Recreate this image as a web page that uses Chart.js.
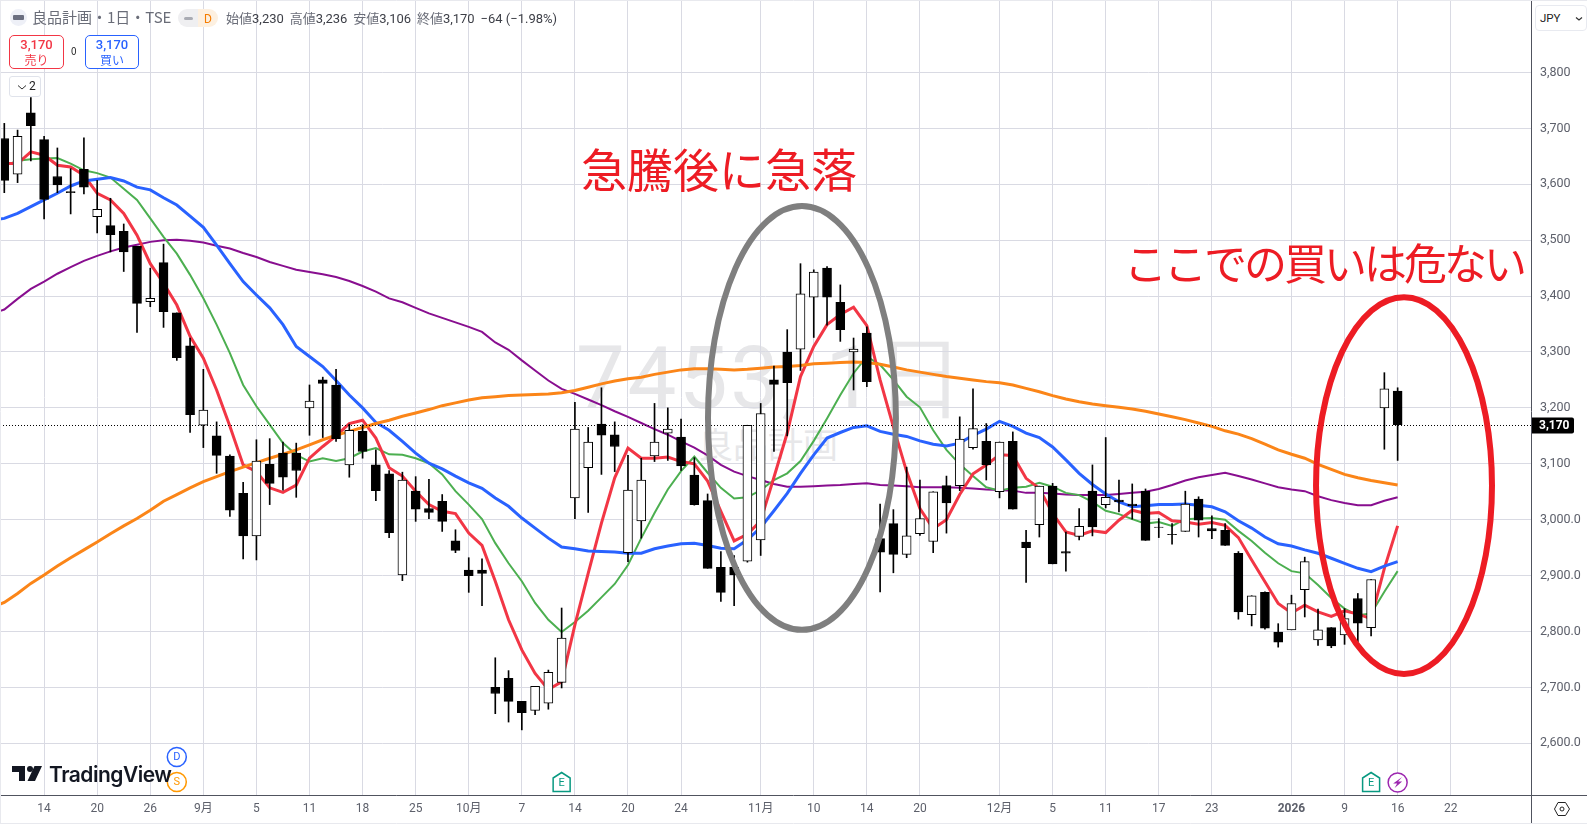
<!DOCTYPE html>
<html lang="ja">
<head>
<meta charset="utf-8">
<title>良品計画 1日</title>
<script src="https://cdn.jsdelivr.net/npm/chart.js@4"></script>
<style>
    html, body { margin: 0; padding: 0; background: #fff; overflow: hidden; }
    body { width: 1587px; height: 830px; position: relative; font-family: "Noto Sans CJK JP", "Noto Sans", sans-serif; }
    canvas { position: absolute; left: 0; top: 0; z-index: 1; }
    .abs { position: absolute; white-space: nowrap; z-index: 2; }
    .wm { position: absolute; white-space: nowrap; z-index: 0; color: #e7e7e9; }
    .note { color: #ed1c24; line-height: 1; }
    .box { border-radius: 5px; background: #fff; text-align: center; box-sizing: border-box; line-height: 14px; font-size: 12px; padding-top: 1px; }
    .box b { display: block; font-weight: 500; font-size: 13px; font-family: Roboto, sans-serif; line-height: 16px; }
    .ohlc span { color: #3d3f47; font-family: Roboto, sans-serif; }
</style>
</head>
<body>
<div class="wm" style="left:576px;top:320px;font-size:87px;font-family:Roboto,sans-serif;line-height:116px;letter-spacing:2.5px;">7453, 1日</div>
<div class="wm" style="left:698px;top:420px;font-size:35px;line-height:46px;">良品計画</div>

<canvas id="chart" width="1587" height="830"></canvas>

<!-- header -->
<div class="abs" style="left:10px;top:9px;width:17px;height:17px;border-radius:50%;background:#eef0f7;"></div>
<div class="abs" style="left:13px;top:15px;width:11px;height:5px;background:#6b6f80;border-radius:1px;"></div>
<div class="abs" style="left:32px;top:6px;font-size:15px;line-height:22px;color:#6a6d78;">良品計画・1日・TSE</div>
<div class="abs" style="left:178px;top:9px;width:20px;height:18px;background:#efeff1;border-radius:9px 0 0 9px;"></div>
<div class="abs" style="left:184px;top:17px;width:9px;height:3px;background:#a9abb3;border-radius:2px;"></div>
<div class="abs" style="left:198px;top:9px;width:20px;height:18px;background:#fdf0e0;border-radius:0 9px 9px 0;color:#f57c00;font-size:12px;line-height:18px;text-align:center;">D</div>
<div class="abs ohlc" style="left:226px;top:8px;font-size:13px;line-height:20px;color:#6a6d78;">始値<span>3,230</span>&nbsp; 高値<span>3,236</span>&nbsp; 安値<span>3,106</span>&nbsp; 終値<span>3,170</span>&nbsp; <span>−64 (−1.98%)</span></div>
<div class="abs box" style="left:9px;top:35px;width:55px;height:34px;border:1px solid #f23645;color:#f23645;"><b>3,170</b>売り</div>
<div class="abs" style="left:71px;top:44px;font-size:10px;line-height:14px;color:#222;">0</div>
<div class="abs box" style="left:85px;top:35px;width:54px;height:34px;border:1px solid #2962ff;color:#2962ff;"><b>3,170</b>買い</div>
<div class="abs" style="left:9px;top:76px;width:32px;height:21px;border:1px solid #e0e3eb;border-radius:3px;box-sizing:border-box;background:#fff;">
    <svg width="12" height="10" style="position:absolute;left:6px;top:6px;"><path d="M2 2.5 L6 6 L10 2.5" fill="none" stroke="#333" stroke-width="1"/></svg>
    <span style="position:absolute;left:19px;top:0;font-size:12px;line-height:19px;color:#222;font-family:Roboto,sans-serif;">2</span>
</div>
<div class="abs" style="left:1535px;top:5px;width:52px;height:26px;border:1px solid #e8eaf0;border-radius:4px;box-sizing:border-box;background:#fff;">
    <span style="position:absolute;left:4px;top:3px;font-size:11.5px;line-height:18px;color:#222;font-family:Roboto,sans-serif;">JPY</span>
    <svg width="8" height="6" style="position:absolute;left:39px;top:10px;"><path d="M1 1.5 L4 4 L7 1.5" fill="none" stroke="#333" stroke-width="1.2"/></svg>
</div>

<!-- hand written notes on the chart -->
<div class="abs note" style="left:581px;top:144px;font-size:46px;">急騰後に急落</div>
<div class="abs note" style="left:1124px;top:240px;font-size:43px;letter-spacing:-3px;">ここでの買いは危ない</div>

<!-- logo -->
<svg class="abs" style="left:12px;top:765px;" width="32" height="18">
    <path d="M0 1 H13 V16 H7 V7 H0 Z M30 1 L23 16 H15.5 L22.5 1 Z" fill="#131722"/>
    <circle cx="18" cy="4" r="3" fill="#131722"/>
</svg>
<div class="abs" style="left:49px;top:761px;font-size:21px;line-height:28px;font-weight:600;color:#131722;font-family:Inter,sans-serif;letter-spacing:-0.5px;">TradingView</div>

<!-- settings icon -->
<svg class="abs" style="left:1553px;top:801px;" width="18" height="16">
    <path d="M5 1.5 H12.5 L16.5 8 L12.5 14.5 H5 L1.5 8 Z" fill="none" stroke="#222" stroke-width="1"/>
    <circle cx="9" cy="8" r="2" fill="none" stroke="#222" stroke-width="1"/>
</svg>

<script>
// OHLC, one row per trading day
const opens = [
    3682, 3618, 3728, 3680, 3614, 3587, 3627, 3542, 3526, 3516,
    3489, 3390, 3460, 3370, 3311, 3169, 3150, 3114, 3047, 2971,
    3099, 3119, 3119, 3200, 3250, 3241, 3098, 3158, 3098, 3082,
    2901, 3051, 3020, 3033, 2962, 2910, 2910, 2700, 2716, 2675,
    2659, 2672, 2709, 3039, 3093, 3171, 3152, 2941, 2998, 3114,
    3155, 3148, 3080, 3034, 2915, 2915, 2926, 2964, 3250, 3300,
    3305, 3398, 3450, 3389, 3300, 3334, 2966, 2993, 2938, 2975,
    2961, 3061, 3061, 3129, 3140, 3050, 3140, 2960, 2991, 3060,
    2943, 2970, 3051, 3027, 3035, 3028, 3051, 2987, 2974, 2979,
    3037, 2984, 2981, 2940, 2830, 2870, 2799, 2803, 2875, 2785,
    2807, 2794, 2859, 2807, 3200, 3230
];
const highs = [
    3709, 3697, 3755, 3686, 3665, 3628, 3683, 3607, 3575, 3529,
    3489, 3450, 3493, 3370, 3325, 3269, 3175, 3116, 3067, 3143,
    3145, 3139, 3137, 3241, 3255, 3269, 3171, 3170, 3125, 3088,
    3085, 3077, 3072, 3045, 2982, 2932, 2930, 2753, 2730, 2675,
    2702, 2731, 2842, 3210, 3165, 3236, 3175, 3115, 3110, 3208,
    3200, 3180, 3111, 3046, 2943, 2936, 3169, 3208, 3275, 3340,
    3458, 3447, 3453, 3420, 3325, 3345, 3028, 3018, 3094, 3071,
    3050, 3078, 3184, 3234, 3172, 3139, 3157, 2981, 3060, 3065,
    2978, 3020, 3098, 3147, 3071, 3064, 3055, 3002, 2993, 3051,
    3041, 3007, 2993, 2943, 2864, 2871, 2814, 2865, 2933, 2840,
    2807, 2841, 2868, 2893, 3263, 3236
];
const lows = [
    3585, 3603, 3642, 3538, 3585, 3547, 3583, 3513, 3479, 3444,
    3335, 3381, 3344, 3285, 3156, 3129, 3083, 3006, 2930, 2928,
    3027, 3053, 3040, 3151, 3147, 3140, 3076, 3110, 3034, 2968,
    2891, 2997, 3002, 2979, 2941, 2870, 2846, 2653, 2638, 2624,
    2651, 2661, 2699, 3002, 3013, 3081, 3086, 2925, 2967, 3104,
    3106, 3088, 3026, 2913, 2854, 2846, 2924, 2936, 3122, 3150,
    3267, 3326, 3348, 3319, 3232, 3238, 2871, 2905, 2932, 2972,
    2941, 2976, 3052, 3126, 3071, 3039, 3019, 2888, 2969, 2921,
    2908, 2964, 2971, 3021, 3014, 3001, 2963, 2968, 2956, 2979,
    2969, 2966, 2954, 2822, 2810, 2804, 2772, 2803, 2826, 2775,
    2771, 2777, 2781, 2792, 3126, 3106
];
const closes = [
    3607, 3686, 3705, 3573, 3599, 3585, 3595, 3555, 3510, 3479,
    3387, 3396, 3372, 3290, 3188, 3196, 3115, 3017, 2971, 3105,
    3065, 3076, 3088, 3212, 3244, 3145, 3160, 3122, 3052, 2977,
    3071, 3019, 3013, 2997, 2945, 2900, 2904, 2689, 2675, 2655,
    2702, 2727, 2788, 3162, 3139, 3151, 3131, 3053, 3071, 3139,
    3162, 3096, 3027, 2913, 2870, 2901, 3169, 3190, 3242, 3245,
    3404, 3443, 3398, 3340, 3305, 3247, 2942, 2938, 2971, 3002,
    3050, 3030, 3144, 3163, 3098, 3139, 3019, 2950, 3060, 2921,
    2940, 2988, 2987, 3040, 3032, 3025, 2963, 2986, 2973, 3028,
    2999, 2980, 2954, 2835, 2864, 2806, 2781, 2850, 2925, 2803,
    2774, 2823, 2815, 2893, 3234, 3170
];

// moving averages: the first value sits one day left of the first candle, off the edge
const maRed = [
    3638,
    3637, 3637, 3658, 3652, 3634, 3631, 3616, 3584, 3572, 3548,
    3509, 3458, 3423, 3384, 3328, 3289, 3232, 3167, 3098, 3086,
    3057, 3049, 3062, 3110, 3131, 3150, 3172, 3178, 3146, 3093,
    3078, 3051, 3027, 3015, 3011, 2976, 2954, 2890, 2821, 2767,
    2725, 2696, 2710, 2812, 2904, 2994, 3075, 3128, 3110, 3110,
    3112, 3104, 3100, 3069, 3015, 2962, 2974, 2998, 3076, 3155,
    3256, 3310, 3349, 3367, 3380, 3347, 3250, 3166, 3086, 3020,
    2984, 3000, 3045, 3082, 3098, 3116, 3115, 3074, 3056, 3011,
    2978, 2972, 2980, 2977, 2999, 3017, 3011, 3013, 2998, 2996,
    2992, 2995, 2990, 2968, 2928, 2889, 2850, 2833, 2847, 2835,
    2827, 2837, 2831, 2823, 2913, 2989
];
const maGreen = [
    3631,
    3633, 3642, 3645, 3646, 3647, 3637, 3625, 3620, 3612, 3592,
    3572, 3539, 3506, 3476, 3438, 3396, 3349, 3298, 3241, 3203,
    3170, 3137, 3116, 3104, 3110, 3105, 3110, 3122, 3128, 3117,
    3116, 3110, 3101, 3081, 3051, 3027, 3001, 2958, 2922, 2890,
    2851, 2821, 2799, 2817, 2837, 2861, 2885, 2919, 2967, 3012,
    3054, 3087, 3113, 3084, 3057, 3038, 3040, 3053, 3071, 3083,
    3105, 3141, 3181, 3223, 3262, 3292, 3277, 3250, 3220, 3201,
    3160, 3125, 3099, 3078, 3058, 3052, 3057, 3059, 3066, 3059,
    3048, 3044, 3032, 3016, 3010, 3001, 2993, 2996, 2989, 3001,
    3002, 3003, 3000, 2980, 2962, 2941, 2922, 2908, 2904, 2883,
    2860, 2841, 2829, 2832, 2871, 2908
];
const maBlue = [
    3536,
    3539, 3548, 3560, 3572, 3584, 3597, 3606, 3609, 3612, 3606,
    3595, 3590, 3576, 3563, 3543, 3523, 3491, 3458, 3426, 3402,
    3379, 3349, 3310, 3292, 3274, 3249, 3223, 3200, 3174, 3160,
    3140, 3119, 3101, 3091, 3078, 3066, 3056, 3039, 3024, 3003,
    2985, 2967, 2951, 2948, 2944, 2943, 2942, 2940, 2940, 2948,
    2953, 2957, 2958, 2954, 2949, 2948, 2964, 2986, 3016, 3047,
    3083, 3116, 3146, 3156, 3165, 3168, 3158, 3153, 3149, 3141,
    3135, 3132, 3137, 3151, 3162, 3176, 3167, 3155, 3147, 3130,
    3107, 3083, 3063, 3046, 3032, 3023, 3025, 3027, 3027, 3028,
    3026, 3023, 3014, 2998, 2985, 2969, 2957, 2953, 2946, 2940,
    2931, 2922, 2913, 2907, 2917, 2925
];
const maPurple = [
    3368,
    3376, 3395, 3413, 3426, 3440, 3452, 3463, 3472, 3480, 3487,
    3492, 3497, 3500, 3501, 3499, 3496, 3490, 3485, 3477, 3470,
    3461, 3454, 3447, 3443, 3439, 3434, 3427, 3418, 3408, 3396,
    3389, 3379, 3369, 3361, 3353, 3345, 3336, 3317, 3304, 3285,
    3267, 3249, 3234, 3225, 3215, 3205, 3194, 3184, 3173, 3162,
    3152, 3140, 3129, 3115, 3098, 3086, 3078, 3071, 3064, 3059,
    3059, 3060, 3061, 3062, 3064, 3065, 3062, 3061, 3060, 3058,
    3058, 3058, 3057, 3056, 3054, 3053, 3052, 3048, 3048, 3047,
    3045, 3044, 3044, 3044, 3046, 3048, 3050, 3055, 3062, 3070,
    3076, 3080, 3084, 3078, 3072, 3065, 3058, 3054, 3051, 3042,
    3035, 3030, 3026, 3026, 3034, 3040
];
const maOrange = [
    2842,
    2852, 2868, 2886, 2901, 2917, 2932, 2946, 2960, 2975, 2989,
    3002, 3017, 3033, 3045, 3057, 3068, 3077, 3086, 3094, 3102,
    3110, 3117, 3125, 3134, 3143, 3151, 3158, 3165, 3172, 3178,
    3185, 3191, 3197, 3204, 3209, 3214, 3218, 3220, 3222, 3223,
    3224, 3225, 3227, 3231, 3237, 3243, 3248, 3252, 3255, 3260,
    3264, 3268, 3270, 3270, 3269, 3268, 3269, 3271, 3273, 3274,
    3276, 3279, 3280, 3281, 3282, 3281, 3278, 3273, 3268, 3264,
    3260, 3256, 3253, 3250, 3247, 3245, 3241, 3235, 3229, 3222,
    3216, 3211, 3207, 3204, 3201, 3198, 3194, 3189, 3184, 3179,
    3173, 3167, 3159, 3153, 3145, 3135, 3125, 3117, 3110, 3099,
    3090, 3081, 3075, 3070, 3066, 3062
];

// axis ticks
const dateTicks = [3, 7, 11, 15, 19, 23, 27, 31, 35, 39, 43, 47, 51, 57, 61, 65, 69, 75, 79, 83, 87, 91, 97, 101, 105, 109];
const dateLabels = ['14', '20', '26', '9月', '5', '11', '18', '25', '10月', '7', '14', '20', '24', '11月', '10', '14', '20', '12月', '5', '11', '17', '23', '2026', '9', '16', '22'];
const priceTicks = [3800, 3700, 3600, 3500, 3400, 3300, 3200, 3100, 3000, 2900, 2800, 2700, 2600];
const priceLabels = ['3,800', '3,700', '3,600', '3,500', '3,400', '3,300', '3,200', '3,100', '3,000.0', '2,900.0', '2,800.0', '2,700.0', '2,600.0'];

// event markers on the time axis
const earningsDays = [42, 103];
const dividendDay = 13;
const newsDay = 105;
const lastClose = closes[closes.length - 1];

// ellipses drawn over the chart: centre day, centre price, half width in days, half height in yen
const grayCircle = [60.11, 3182, 7.08, 379];
const redCircle = [105.48, 3061, 6.63, 337];

const axisColor = '#50535e';
const gridColor = '#d9dae3';
const labelColor = '#5d606b';

function maDataset(values, color, width, order) {
    return {
        type: 'line',
        data: values.map((v, i) => ({ x: i - 1, y: v })),
        borderColor: color,
        borderWidth: width,
        pointRadius: 0,
        tension: 0,
        order: order
    };
}

function drawEllipse(ctx, chart, e, color) {
    const x = chart.scales.x, y = chart.scales.y;
    const cx = x.getPixelForValue(e[0]);
    const cy = y.getPixelForValue(e[1]);
    const rx = x.getPixelForValue(e[0] + e[2]) - cx;
    const ry = cy - y.getPixelForValue(e[1] + e[3]);
    ctx.strokeStyle = color;
    ctx.lineWidth = 6;
    ctx.beginPath();
    ctx.ellipse(cx, cy, rx, ry, 0, 0, Math.PI * 2);
    ctx.stroke();
}

function drawCircleMark(ctx, x, y, letter, color) {
    ctx.fillStyle = '#fff';
    ctx.strokeStyle = color;
    ctx.lineWidth = 1.5;
    ctx.beginPath();
    ctx.arc(x, y, 9.5, 0, Math.PI * 2);
    ctx.fill();
    ctx.stroke();
    ctx.fillStyle = color;
    ctx.font = '11px Roboto, sans-serif';
    ctx.textAlign = 'center';
    ctx.textBaseline = 'middle';
    ctx.fillText(letter, x, y + 0.5);
}

// everything that is not a data series: price line, tag, markers, circles, axis frame
const overlayPlugin = {
    id: 'overlay',
    afterDatasetsDraw(chart) {
        const ctx = chart.ctx;
        const area = chart.chartArea;
        const x = chart.scales.x, y = chart.scales.y;
        const py = Math.round(y.getPixelForValue(lastClose)) + 0.5;

        ctx.save();
        // last price line
        ctx.strokeStyle = '#000';
        ctx.lineWidth = 1;
        ctx.setLineDash([1, 2]);
        ctx.beginPath();
        ctx.moveTo(area.left, py);
        ctx.lineTo(area.right, py);
        ctx.stroke();
        ctx.setLineDash([]);

        // axis frame
        ctx.strokeStyle = axisColor;
        ctx.beginPath();
        ctx.moveTo(0, area.bottom + 0.5);
        ctx.lineTo(1587, area.bottom + 0.5);
        ctx.moveTo(area.right + 0.5, 0);
        ctx.lineTo(area.right + 0.5, 823);
        ctx.stroke();
        ctx.strokeStyle = '#e8e9ee';
        ctx.beginPath();
        ctx.moveTo(0, 823.5);
        ctx.lineTo(1587, 823.5);
        ctx.moveTo(0.5, 0);
        ctx.lineTo(0.5, 823);
        ctx.moveTo(0, 0.5);
        ctx.lineTo(1587, 0.5);
        ctx.stroke();

        // price tag
        ctx.fillStyle = '#000';
        ctx.beginPath();
        ctx.roundRect(area.right + 1, py - 8, 42, 16, [0, 2, 2, 0]);
        ctx.fill();
        ctx.fillStyle = '#fff';
        ctx.font = 'bold 12px Roboto, sans-serif';
        ctx.textAlign = 'left';
        ctx.textBaseline = 'middle';
        ctx.fillText('3,170', area.right + 8, py + 0.5);

        // earnings flags
        earningsDays.forEach(day => {
            const fx = x.getPixelForValue(day);
            ctx.fillStyle = '#fff';
            ctx.strokeStyle = '#089981';
            ctx.lineWidth = 1.5;
            ctx.beginPath();
            ctx.moveTo(fx - 8.5, 778);
            ctx.lineTo(fx, 772.5);
            ctx.lineTo(fx + 8.5, 778);
            ctx.lineTo(fx + 8.5, 791.5);
            ctx.lineTo(fx - 8.5, 791.5);
            ctx.closePath();
            ctx.fill();
            ctx.stroke();
            ctx.fillStyle = '#089981';
            ctx.font = '11px Roboto, sans-serif';
            ctx.textAlign = 'center';
            ctx.textBaseline = 'middle';
            ctx.fillText('E', fx, 783);
        });

        // dividend and split marks
        drawCircleMark(ctx, x.getPixelForValue(dividendDay), 757, 'D', '#2962ff');
        drawCircleMark(ctx, x.getPixelForValue(dividendDay), 782, 'S', '#ff9800');

        // news mark with a bolt
        const nx = x.getPixelForValue(newsDay);
        ctx.fillStyle = '#fff';
        ctx.strokeStyle = '#9c27b0';
        ctx.lineWidth = 1.5;
        ctx.beginPath();
        ctx.arc(nx, 782.5, 9.5, 0, Math.PI * 2);
        ctx.fill();
        ctx.stroke();
        ctx.fillStyle = '#9c27b0';
        ctx.beginPath();
        ctx.moveTo(nx + 4.5, 777);
        ctx.lineTo(nx - 4.5, 783.5);
        ctx.lineTo(nx - 0.5, 783.5);
        ctx.lineTo(nx - 3, 788);
        ctx.lineTo(nx + 4.5, 781.5);
        ctx.lineTo(nx + 0.5, 781.5);
        ctx.closePath();
        ctx.fill();

        // circles
        drawEllipse(ctx, chart, grayCircle, '#7f7f7f');
        drawEllipse(ctx, chart, redCircle, '#ed1c24');
        ctx.restore();
    }
};

new Chart(document.getElementById('chart').getContext('2d'), {
    type: 'bar',
    data: {
        datasets: [
            maDataset(maPurple, '#880e8f', 2, 9),
            maDataset(maGreen, '#4caf50', 2, 8),
            maDataset(maRed, '#f23645', 3, 7),
            maDataset(maBlue, '#2962ff', 3, 6),
            maDataset(maOrange, '#fb8518', 3, 5),
            {
                // wicks
                data: highs.map((h, i) => ({ x: i, y: [lows[i], h] })),
                backgroundColor: '#000',
                barThickness: 1,
                grouped: false,
                order: 2
            },
            {
                // bodies
                data: opens.map((o, i) => ({ x: i, y: [o, closes[i]] })),
                backgroundColor: opens.map((o, i) => closes[i] > o ? '#fff' : '#000'),
                borderColor: '#000',
                borderWidth: 1,
                borderSkipped: false,
                barThickness: 9,
                grouped: false,
                order: 1
            }
        ]
    },
    options: {
        responsive: false,
        animation: false,
        devicePixelRatio: 1,
        layout: { padding: 0 },
        plugins: {
            legend: { display: false },
            tooltip: { enabled: false }
        },
        scales: {
            x: {
                type: 'linear',
                offset: false,
                min: -0.324,
                max: 115.05,
                grid: { offset: false, color: gridColor, drawTicks: false },
                border: { display: false },
                afterBuildTicks: scale => {
                    scale.ticks = dateTicks.map(v => ({ value: v }));
                },
                afterFit: scale => {
                    scale.height = 35;
                    scale.paddingLeft = 0;
                    scale.paddingRight = 0;
                },
                ticks: {
                    autoSkip: false,
                    maxRotation: 0,
                    padding: 7,
                    color: labelColor,
                    font: ctx => ({ size: 12, family: 'Roboto, "Noto Sans CJK JP", sans-serif', weight: ctx.tick && ctx.tick.value === 97 ? 'bold' : 'normal' }),
                    callback: value => dateLabels[dateTicks.indexOf(value)]
                }
            },
            y: {
                type: 'linear',
                position: 'right',
                min: 2507.5,
                max: 3929.7,
                grid: { color: gridColor, drawTicks: false },
                border: { display: false },
                afterBuildTicks: scale => {
                    scale.ticks = priceTicks.map(v => ({ value: v }));
                },
                afterFit: scale => {
                    scale.width = 56;
                    scale.paddingTop = 0;
                    scale.paddingBottom = 0;
                },
                ticks: {
                    padding: 9,
                    color: labelColor,
                    font: { size: 12.5, family: 'Roboto, sans-serif' },
                    callback: value => priceLabels[priceTicks.indexOf(value)]
                }
            }
        }
    },
    plugins: [overlayPlugin]
});
</script>
</body>
</html>
